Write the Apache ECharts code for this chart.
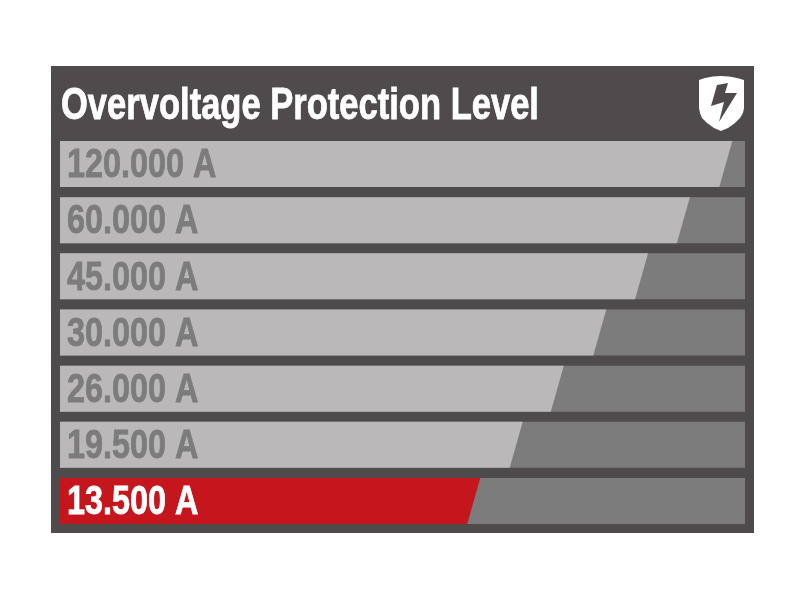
<!DOCTYPE html>
<html><head><meta charset="utf-8">
<style>html,body{margin:0;padding:0;background:#fff}#c{width:800px;height:600px}</style>
<script src="https://cdn.jsdelivr.net/npm/echarts@6/dist/echarts.min.js"></script>
</head><body><div id="c"></div>
<script>
const titleText = 'Overvoltage Protection Level';
const categories = ['120.000 A','60.000 A','45.000 A','30.000 A','26.000 A','19.500 A','13.500 A'];
const barLengths = [97.2,91.0,84.9,78.8,72.6,66.6,60.4];
const trackLengths = [100,100,100,100,100,100,100];
const highlighted = ['13.500 A'];
const PANEL='#4f4b4c',TRACK='#7d7c7d',LIGHT='#bab8b9',RED='#c4161c';
const FONT='"Liberation Sans",sans-serif';
const BAR_H=46,SLANT=6.5;
const chart=echarts.init(document.getElementById('c'),null,{renderer:'canvas'});
chart.setOption({
  animation:false,
  backgroundColor:'#fff',
  grid:{left:60,right:55,top:135.9,bottom:70.9},
  xAxis:{type:'value',min:0,max:100,show:false},
  yAxis:{type:'category',inverse:true,data:categories,show:false},
  graphic:[
    {type:'rect',z:-10,silent:true,shape:{x:51,y:66,width:703,height:467},style:{fill:PANEL}},
    {type:'text',z:5,silent:true,x:61,y:107,scaleX:0.785,style:{text:titleText,fill:'#fff',stroke:'#fff',lineWidth:0.8,font:'bold 44px '+FONT,verticalAlign:'middle'}},
    {type:'polygon',z:5,silent:true,shape:{points:[[699,80],[705,78],[713,76.5],[721,76],[729,76.5],[737,78],[744,80],[744,108],[743,113],[740,118],[735,123],[728,128],[721,131],[714,128],[707,123],[702,118],[700,113],[699,108]]},style:{fill:'#fff'}},
    {type:'polygon',z:6,silent:true,shape:{points:[[717,85],[728,83],[725,93],[737,93],[719,122],[724,102],[711,106]]},style:{fill:PANEL}}
  ],
  series:[
    {type:'bar',data:trackLengths,barWidth:BAR_H,itemStyle:{color:TRACK},silent:true,z:1},
    {type:'custom',z:2,silent:true,
     encode:{x:1,y:0},
     data:barLengths.map((v,i)=>[i,v]),
     renderItem(params,api){
       const i=api.value(0),v=api.value(1);
       const p0=api.coord([0,i]),p=api.coord([v,i]);
       const top=p[1]-BAR_H/2,bot=p[1]+BAR_H/2;
       const name=categories[i],hot=highlighted.includes(name);
       const col=hot?'#fff':TRACK;
       return {type:'group',children:[
         {type:'polygon',shape:{points:[[p0[0],top],[p[0]+SLANT,top],[p[0]-SLANT,bot],[p0[0],bot]]},style:{fill:hot?RED:LIGHT}},
         {type:'text',x:p0[0]+7,y:p[1]+2,scaleX:0.79,style:{text:name,fill:col,stroke:col,lineWidth:0.8,font:'bold 41px '+FONT,verticalAlign:'middle'}}
       ]};
     }}
  ]
});
</script></body></html>
